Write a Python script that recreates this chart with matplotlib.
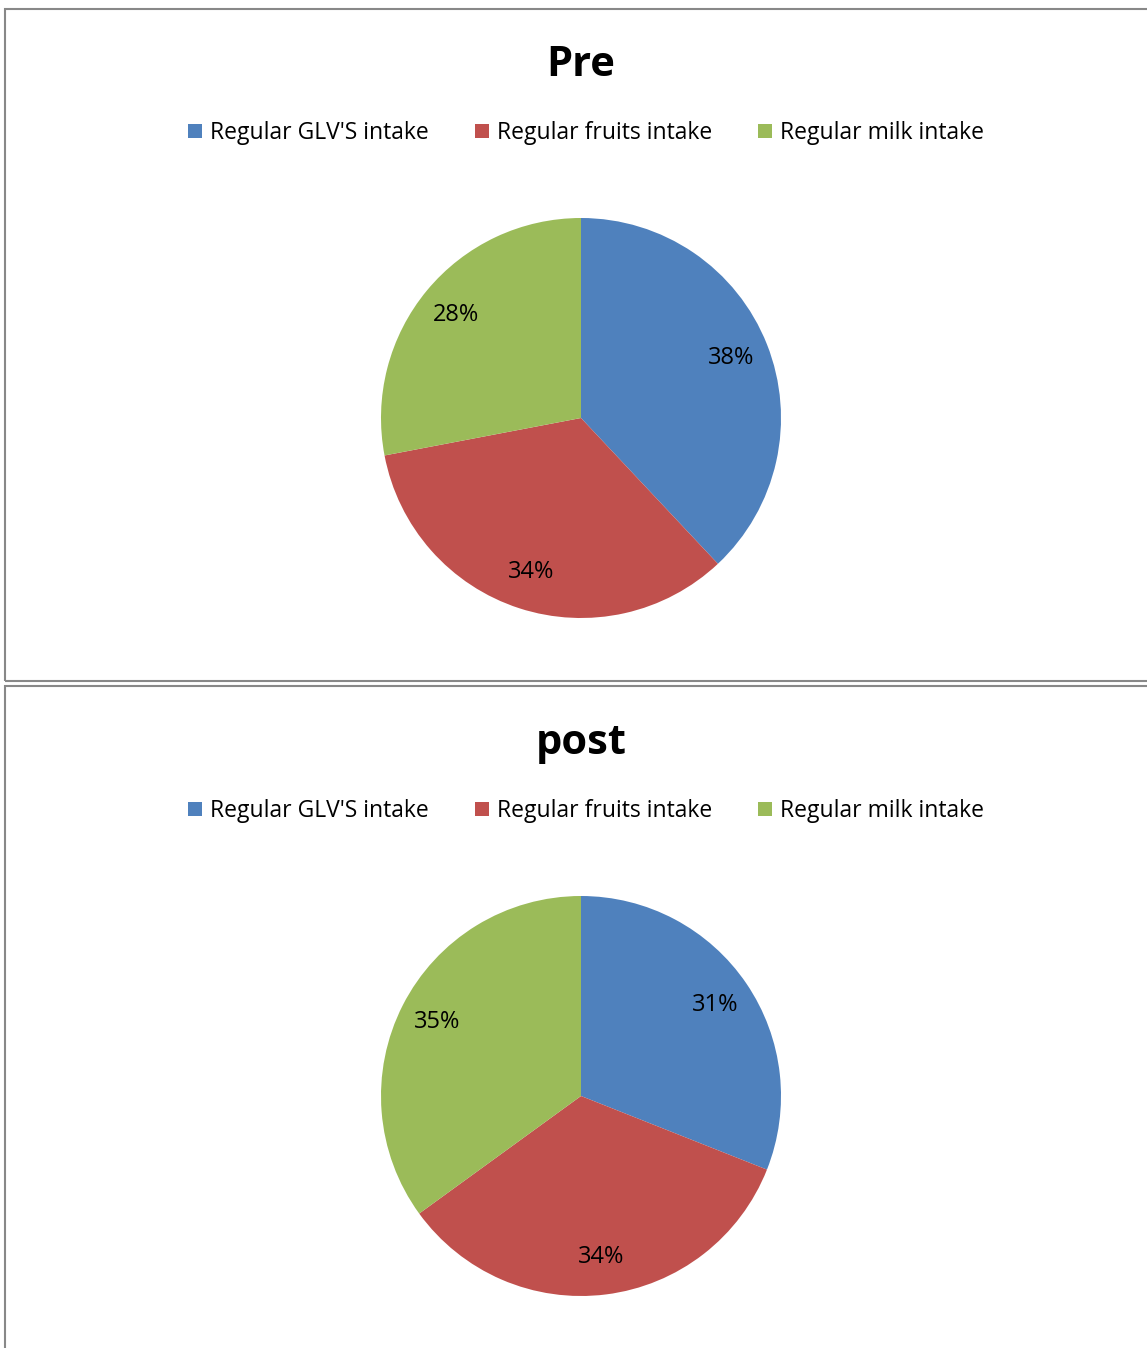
import matplotlib
matplotlib.use("Agg")
import matplotlib.pyplot as plt
from matplotlib.patches import Rectangle, Patch

plt.rcParams['font.family'] = ['Open Sans', 'DejaVu Sans']

categories = ["Regular GLV'S intake", "Regular fruits intake", "Regular milk intake"]
pre_values = [38, 34, 28]
post_values = [31, 34, 35]
titles = ["Pre", "post"]
colors = ["#4F81BD", "#C0504D", "#9BBB59"]

W, H = 1147, 1348
fig = plt.figure(figsize=(W / 100, H / 100), dpi=100)


def px_box(left, top, width, height):
    # pixel box (top-left origin) -> figure fraction rect
    return [left / W, 1 - (top + height) / H, width / W, height / H]


# chart frames
for (left, top, right, bottom) in [(5, 9, 1160, 681), (5, 686, 1160, 1360)]:
    fig.patches.append(Rectangle((left / W, 1 - bottom / H), (right - left) / W,
                                 (bottom - top) / H, transform=fig.transFigure,
                                 fill=False, edgecolor="#888888", linewidth=1.5))

panels = [(titles[0], pre_values, 0), (titles[1], post_values, 678)]
for title, values, dy in panels:
    fig.text(581 / W, 1 - (65 + dy) / H, title, ha="center", va="center",
             fontsize=30, fontweight="bold")

    handles = [Patch(facecolor=c, edgecolor="none") for c in colors]
    fig.legend(handles, categories, loc="center", ncol=3,
               bbox_to_anchor=(586 / W, 1 - (133 + dy) / H), frameon=False,
               fontsize=16.5, handlelength=0.62, handleheight=0.62,
               handletextpad=0.35, columnspacing=2.0)

    ax = fig.add_axes(px_box(381, 218 + dy, 400, 400))
    wedges, texts = ax.pie(values, colors=colors, startangle=90, counterclock=False,
                           labels=[f"{v}%" for v in values], labeldistance=0.81,
                           textprops=dict(fontsize=17, ha="center", va="center"),
                           wedgeprops=dict(linewidth=0))
    ax.set_xlim(-1, 1)
    ax.set_ylim(-1, 1)
    ax.axis("off")

fig.savefig("out.png", dpi=100)
